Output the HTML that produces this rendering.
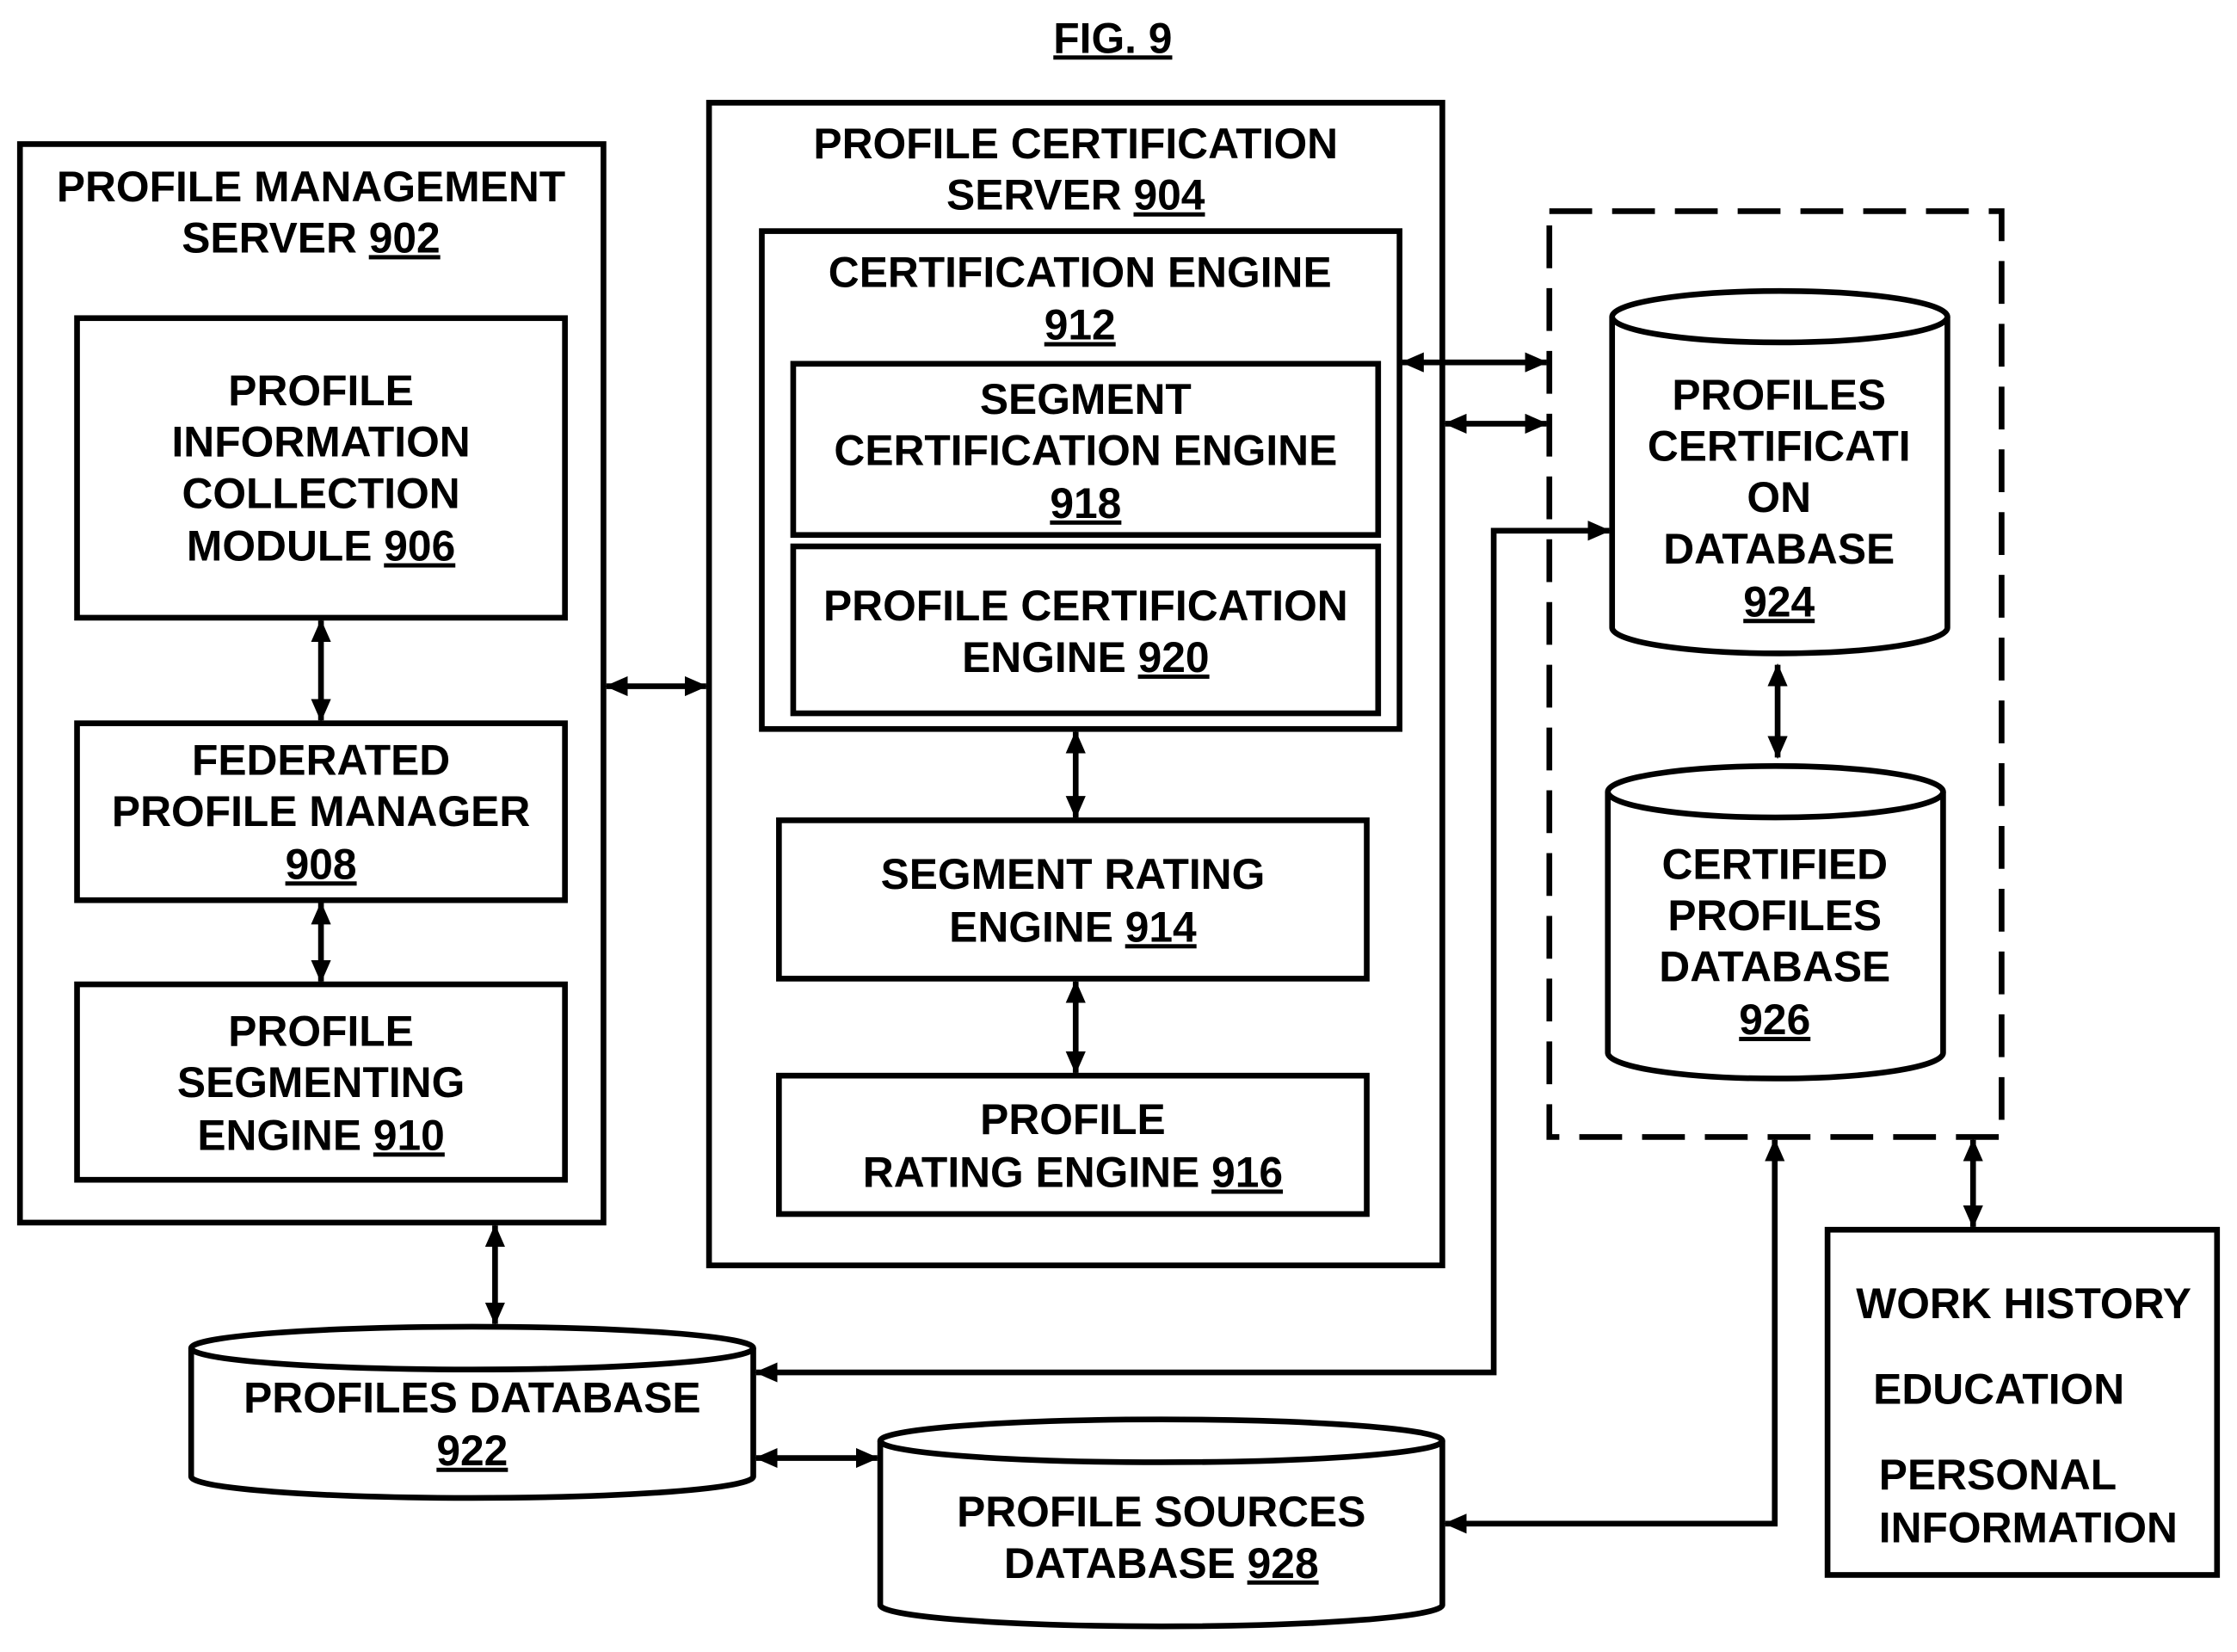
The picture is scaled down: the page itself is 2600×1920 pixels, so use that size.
<!DOCTYPE html>
<html><head><meta charset="utf-8"><style>
html,body{margin:0;padding:0;background:#fff}
svg{display:block}
text{font-family:"Liberation Sans",Arial,sans-serif;font-weight:bold;font-size:30px;fill:#000}
.u{text-decoration:underline}
</style></head><body>
<svg width="2600" height="1920" viewBox="0 0 1568 1158" preserveAspectRatio="none" xmlns="http://www.w3.org/2000/svg">
<defs>
<marker id="a" markerUnits="userSpaceOnUse" markerWidth="16" markerHeight="14" refX="15" refY="7" orient="auto-start-reverse">
<path d="M0,0 L16,7 L0,14 Z" fill="#000"/></marker>
</defs>
<g fill="none" stroke="#000" stroke-width="4">
<rect x="14" y="101" width="409" height="756"/>
<rect x="54" y="223" width="342" height="210"/>
<rect x="54" y="507" width="342" height="124"/>
<rect x="54" y="690" width="342" height="137"/>
<rect x="497" y="72" width="514" height="815"/>
<rect x="534" y="162" width="447" height="349"/>
<rect x="556" y="255" width="410" height="120"/>
<rect x="556" y="383" width="410" height="117"/>
<rect x="546" y="575" width="412" height="111"/>
<rect x="546" y="754" width="412" height="97"/>
<rect x="1086" y="148" width="317" height="649" stroke-dasharray="30,14"/>
<rect x="1281" y="862" width="273" height="242"/>
<path d="M1130,222 V440 A117.5,18 0 0 0 1365,440 V222" fill="#fff"/>
<ellipse cx="1247.5" cy="222" rx="117.5" ry="18" fill="#fff"/>
<path d="M1127,555 V738 A117.5,18 0 0 0 1362,738 V555" fill="#fff"/>
<ellipse cx="1244.5" cy="555" rx="117.5" ry="18" fill="#fff"/>
<path d="M134,945 V1035 A197,15 0 0 0 528,1035 V945" fill="#fff"/>
<ellipse cx="331" cy="945" rx="197" ry="15" fill="#fff"/>
<path d="M617,1010 V1125 A197,15 0 0 0 1011,1125 V1010" fill="#fff"/>
<ellipse cx="814" cy="1010" rx="197" ry="15" fill="#fff"/>
</g>
<g fill="none" stroke="#000" stroke-width="4" marker-start="url(#a)" marker-end="url(#a)">
<line x1="225" y1="435" x2="225" y2="505"/>
<line x1="225" y1="633" x2="225" y2="688"/>
<line x1="425" y1="481" x2="495" y2="481"/>
<line x1="754" y1="513" x2="754" y2="573"/>
<line x1="754" y1="688" x2="754" y2="752"/>
<line x1="983" y1="254" x2="1084" y2="254"/>
<line x1="1013" y1="297" x2="1084" y2="297"/>
<line x1="1246" y1="466" x2="1246" y2="531"/>
<line x1="347" y1="859" x2="347" y2="928"/>
<line x1="530" y1="1022" x2="615" y2="1022"/>
<line x1="1383" y1="799" x2="1383" y2="860"/>
<polyline points="530,962 1047,962 1047,372 1128,372"/>
<polyline points="1013,1068 1244,1068 1244,799"/>
</g>
<text x="780" y="37" text-anchor="middle" font-size="36" class="u">FIG. 9</text>
<g text-anchor="middle">
<text x="218" y="141">PROFILE MANAGEMENT</text>
<text x="218" y="177">SERVER <tspan class="u">902</tspan></text>
<text x="225" y="284">PROFILE</text>
<text x="225" y="320">INFORMATION</text>
<text x="225" y="356">COLLECTION</text>
<text x="225" y="393">MODULE <tspan class="u">906</tspan></text>
<text x="225" y="543">FEDERATED</text>
<text x="225" y="579">PROFILE MANAGER</text>
<text x="225" y="616" class="u">908</text>
<text x="225" y="733">PROFILE</text>
<text x="225" y="769">SEGMENTING</text>
<text x="225" y="806">ENGINE <tspan class="u">910</tspan></text>
<text x="754" y="111">PROFILE CERTIFICATION</text>
<text x="754" y="147">SERVER <tspan class="u">904</tspan></text>
<text x="757" y="201">CERTIFICATION ENGINE</text>
<text x="757" y="238" class="u">912</text>
<text x="761" y="290">SEGMENT</text>
<text x="761" y="326">CERTIFICATION ENGINE</text>
<text x="761" y="363" class="u">918</text>
<text x="761" y="435">PROFILE CERTIFICATION</text>
<text x="761" y="471">ENGINE <tspan class="u">920</tspan></text>
<text x="752" y="623">SEGMENT RATING</text>
<text x="752" y="660">ENGINE <tspan class="u">914</tspan></text>
<text x="752" y="795">PROFILE</text>
<text x="752" y="832">RATING ENGINE <tspan class="u">916</tspan></text>
<text x="1247" y="287">PROFILES</text>
<text x="1247" y="323">CERTIFICATI</text>
<text x="1247" y="359">ON</text>
<text x="1247" y="395">DATABASE</text>
<text x="1247" y="432" class="u">924</text>
<text x="1244" y="616">CERTIFIED</text>
<text x="1244" y="652">PROFILES</text>
<text x="1244" y="688">DATABASE</text>
<text x="1244" y="725" class="u">926</text>
<text x="331" y="990">PROFILES DATABASE</text>
<text x="331" y="1027" class="u">922</text>
<text x="814" y="1070">PROFILE SOURCES</text>
<text x="814" y="1106">DATABASE <tspan class="u">928</tspan></text>
</g>
<text x="1301" y="924">WORK HISTORY</text>
<text x="1313" y="984">EDUCATION</text>
<text x="1317" y="1044">PERSONAL</text>
<text x="1317" y="1081">INFORMATION</text>
</svg>
</body></html>
